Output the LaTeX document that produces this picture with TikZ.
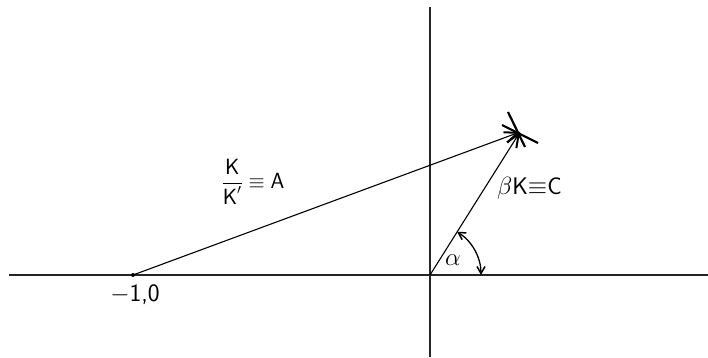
\documentclass[tikz,border=0pt]{standalone}
\usepackage{amsmath}
\usetikzlibrary{arrows.meta,calc}

\begin{document}
\begin{tikzpicture}[x=1pt, y=1pt,
  axis/.style={line width=1.3pt, draw=black!85},
  vec/.style={line width=1.1pt, -{Straight Barb[length=13pt, width=11pt, line width=2pt]}},
  anglearc/.style={line width=1.3pt, {Straight Barb[length=7pt, width=8pt, line width=1.5pt]}-{Straight Barb[length=7pt, width=8pt, line width=1.5pt]}},
  tick/.style={line width=2.2pt},
  lbl/.style={inner sep=0pt, font=\fontsize{24}{28}\selectfont\sffamily}
]
  \useasboundingbox (0,0) rectangle (708,358);

  % axes
  \coordinate (origin) at (430,83);
  \coordinate (xleft) at (9,83);
  \coordinate (xright) at (708,83);
  \coordinate (ytop) at (430,351);
  \coordinate (ybot) at (430,1);
  \draw[axis] (xleft) -- (xright);
  \draw[axis] (ybot) -- (ytop);

  % critical point
  \node[circle, fill=black, inner sep=0pt, minimum size=4pt] (crit) at (133,83) {};
  \node[lbl, font=\fontsize{25}{29}\selectfont\sffamily] (critlbl) at (135,63) {$-$1,0};

  % vectors
  \coordinate (tip) at (520,226);
  \draw[vec] (crit.center) -- (tip);
  \draw[vec] (origin) -- (tip);

  % marks through the tip
  \draw[tick] (tip) ++(-12,20) -- ++(17,-35);
  \draw[tick] (tip) ++(-18,7) -- ++(36,-18);

  % angle
  \draw[anglearc] ($(origin)+(51,0)$) arc[start angle=0, end angle=58, radius=51];

  % labels
  \node[lbl, font=\fontsize{22}{26}\selectfont\sffamily] (albl) at (253,176) {$\dfrac{\textsf{K}}{\textsf{K}'}\equiv\textsf{A}$};
  \node[lbl, anchor=west] (clbl) at (497,170) {$\beta$K$\equiv$C};
  \node[lbl] (alpha) at (453,98) {$\alpha$};
\end{tikzpicture}
\end{document}
